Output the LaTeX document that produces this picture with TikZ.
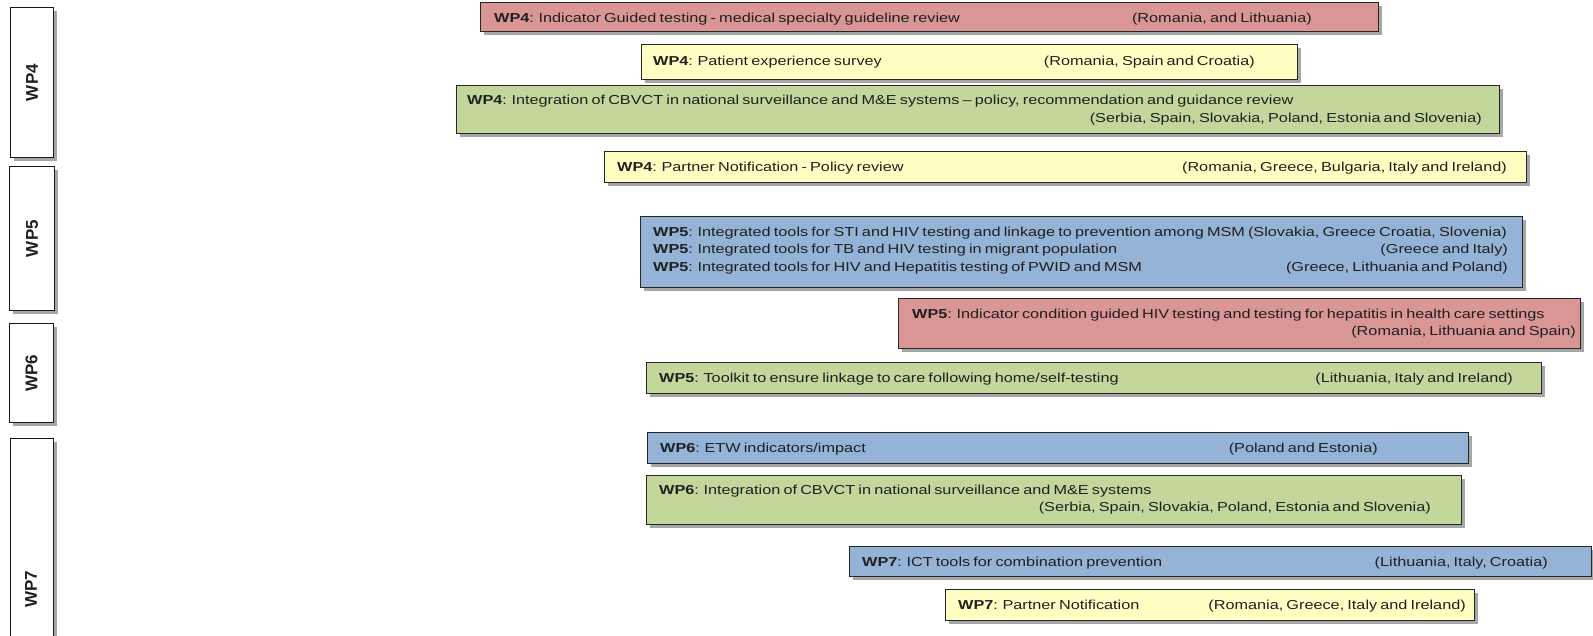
\documentclass[tikz,border=0pt]{standalone}
\usepackage{fontspec}
\setmainfont{Liberation Sans}[FakeStretch=1.25,WordSpace=0.7]
\newfontfamily\lblfont{Liberation Sans}
\usetikzlibrary{shadows}
\definecolor{cred}{HTML}{D99694}
\definecolor{cyel}{HTML}{FFFFC4}
\definecolor{cgrn}{HTML}{C3D69B}
\definecolor{cblu}{HTML}{95B3D7}
\definecolor{ctxt}{HTML}{202020}
\begin{document}
\begin{tikzpicture}[x=1pt,y=-1pt,
  shad/.style={drop shadow={shadow xshift=3pt,shadow yshift=-3pt,fill=black,opacity=0.35}},
  bar/.style={draw=black!85,line width=1.2pt,shad,inner sep=0pt,anchor=north west},
  wpbox/.style={draw=black!90,line width=1.2pt,fill=white,shad,inner sep=0pt,anchor=north west},
  wplbl/.style={rotate=90,font=\lblfont\bfseries\fontsize{17}{20}\selectfont,text=ctxt,inner sep=0pt},
  lt/.style={anchor=base west,inner sep=0pt,text=ctxt,font=\fontsize{13}{15}\selectfont},
  rt/.style={anchor=base east,inner sep=0pt,text=ctxt,font=\fontsize{13}{15}\selectfont}
]
\useasboundingbox[fill=white] (0,0) rectangle (1593,635);
% work package labels
\node[wpbox,minimum width=43,minimum height=150] (wp4) at (10,7) {};
\node[wplbl] (l4) at (wp4.center) {WP4};
\node[wpbox,minimum width=45,minimum height=144] (wp5) at (9,166) {};
\node[wplbl] (l5) at (wp5.center) {WP5};
\node[wpbox,minimum width=44,minimum height=99] (wp6) at (9,323) {};
\node[wplbl] (l6) at (wp6.center) {WP6};
\node[wpbox,minimum width=43,minimum height=300] (wp7) at (10,438) {};
\node[wplbl] (l7) at (31,589) {WP7};
% bars
\node[bar,fill=cred,minimum width=898,minimum height=29] (b1) at (480,2) {};
\node[lt] (t1) at (494,22) {\textbf{WP4}: Indicator Guided testing - medical specialty guideline review};
\node[rt] (r1) at (1312,22) {(Romania, and Lithuania)};

\node[bar,fill=cyel,minimum width=656,minimum height=35] (b2) at (641,44) {};
\node[lt] (t2) at (653,65) {\textbf{WP4}: Patient experience survey};
\node[rt] (r2) at (1255,65) {(Romania, Spain and Croatia)};

\node[bar,fill=cgrn,minimum width=1043,minimum height=48] (b3) at (456,85) {};
\node[lt] (t3) at (467,104) {\textbf{WP4}: Integration of CBVCT in national surveillance and M\&E systems -- policy, recommendation and guidance review};
\node[rt] (r3) at (1482,122) {(Serbia, Spain, Slovakia, Poland, Estonia and Slovenia)};

\node[bar,fill=cyel,minimum width=922,minimum height=31] (b4) at (604,151) {};
\node[lt] (t4) at (617,171) {\textbf{WP4}: Partner Notification - Policy review};
\node[rt] (r4) at (1507,171) {(Romania, Greece, Bulgaria, Italy and Ireland)};

\node[bar,fill=cblu,minimum width=882,minimum height=71] (b5) at (640,216) {};
\node[lt] (t5a) at (653,236) {\textbf{WP5}: Integrated tools for STI and HIV testing and linkage to prevention among MSM (Slovakia, Greece Croatia, Slovenia)};
\node[lt] (t5b) at (653,253) {\textbf{WP5}: Integrated tools for TB and HIV testing in migrant population};
\node[rt] (r5b) at (1508,253) {(Greece and Italy)};
\node[lt] (t5c) at (653,271) {\textbf{WP5}: Integrated tools for HIV and Hepatitis testing of PWID and MSM};
\node[rt] (r5c) at (1508,271) {(Greece, Lithuania and Poland)};

\node[bar,fill=cred,minimum width=682,minimum height=50] (b6) at (898,298) {};
\node[lt] (t6) at (912,318) {\textbf{WP5}: Indicator condition guided HIV testing and testing for hepatitis in health care settings};
\node[rt] (r6) at (1576,335) {(Romania, Lithuania and Spain)};

\node[bar,fill=cgrn,minimum width=895,minimum height=31] (b7) at (646,362) {};
\node[lt] (t7) at (659,382) {\textbf{WP5}: Toolkit to ensure linkage to care following home/self-testing};
\node[rt] (r7) at (1513,382) {(Lithuania, Italy and Ireland)};

\node[bar,fill=cblu,minimum width=821,minimum height=31] (b8) at (647,432) {};
\node[lt] (t8) at (660,452) {\textbf{WP6}: ETW indicators/impact};
\node[rt] (r8) at (1378,452) {(Poland and Estonia)};

\node[bar,fill=cgrn,minimum width=815,minimum height=49] (b9) at (646,475) {};
\node[lt] (t9) at (659,494) {\textbf{WP6}: Integration of CBVCT in national surveillance and M\&E systems};
\node[rt] (r9) at (1431,511) {(Serbia, Spain, Slovakia, Poland, Estonia and Slovenia)};

\node[bar,fill=cblu,minimum width=742,minimum height=30] (b10) at (849,546) {};
\node[lt] (t10) at (862,566) {\textbf{WP7}: ICT tools for combination prevention};
\node[rt] (r10) at (1548,566) {(Lithuania, Italy, Croatia)};

\node[bar,fill=cyel,minimum width=529,minimum height=31] (b11) at (945,589) {};
\node[lt] (t11) at (958,609) {\textbf{WP7}: Partner Notification};
\node[rt] (r11) at (1466,609) {(Romania, Greece, Italy and Ireland)};
\end{tikzpicture}
\end{document}
